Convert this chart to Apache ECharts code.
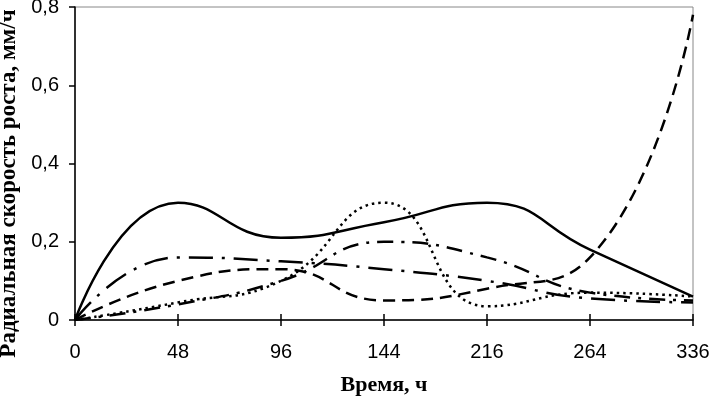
<!doctype html>
<html lang="ru">
<head>
<meta charset="UTF-8">
<title>Радиальная скорость роста</title>
<script src="https://cdn.jsdelivr.net/npm/echarts@6/dist/echarts.min.js"></script>
<style>
  html, body { margin: 0; padding: 0; background: #fff; }
  #chart { width: 713px; height: 397px; }
</style>
</head>
<body>
<div id="chart"></div>
<script>
  // время, ч (категории оси X)
  var times = ['0', '48', '96', '144', '216', '264', '336'];

  // значения радиальной скорости роста, мм/ч
  var solidLine    = [0, 0.30, 0.21, 0.25, 0.30, 0.18, 0.06];
  var dashLine     = [0, 0.10, 0.13, 0.05, 0.08, 0.16, 0.78];
  var longDashDot  = [0, 0.16, 0.15, 0.13, 0.10, 0.055, 0.045];
  var dashDotLine  = [0, 0.04, 0.10, 0.20, 0.16, 0.07, 0.05];
  var dotLine      = [0, 0.045, 0.10, 0.30, 0.035, 0.07, 0.06];

  var chart = echarts.init(document.getElementById('chart'));

  function mkSeries(data, dash) {
    return {
      type: 'line',
      data: data,
      smooth: 0.5,
      symbol: 'none',
      xAxisIndex: 0,
      lineStyle: { color: '#000', width: 2.5, type: dash }
    };
  }

  var option = {
    animation: false,
    backgroundColor: '#fff',
    grid: {
      left: 75, right: 20, top: 7, bottom: 77,
      containLabel: false, outerBoundsMode: 'none',
      show: true, borderColor: '#888', borderWidth: 1
    },
    xAxis: [{
      type: 'category',
      data: times,
      boundaryGap: false,
      name: 'Время, ч',
      nameLocation: 'middle',
      nameGap: 54,
      nameTextStyle: { fontFamily: 'Liberation Serif', fontWeight: 'bold', fontSize: 22, color: '#000' },
      axisLine: { lineStyle: { color: '#000', width: 1.5 } },
      axisTick: { length: 6, lineStyle: { color: '#000', width: 1.5 } },
      axisLabel: { margin: 22, fontFamily: 'Liberation Sans', fontSize: 20, color: '#000' },
      splitLine: { show: false }
    }, {
      // верхняя половина пересекающих делений
      type: 'category',
      data: times,
      boundaryGap: false,
      position: 'top',
      offset: -313,
      axisLine: { show: false },
      axisTick: { length: 6, lineStyle: { color: '#000', width: 1.5 } },
      axisLabel: { show: false },
      splitLine: { show: false }
    }],
    yAxis: {
      type: 'value',
      min: 0, max: 0.8, interval: 0.2,
      name: 'Радиальная скорость роста, мм/ч',
      nameLocation: 'middle',
      nameGap: 47,
      nameTextStyle: {
        fontFamily: 'Liberation Serif', fontWeight: 'bold', fontSize: 23, color: '#000',
        padding: [0, 40, 0, 0]
      },
      axisLine: { show: true, lineStyle: { color: '#000', width: 1.5 } },
      axisTick: { show: true, length: 6, lineStyle: { color: '#000', width: 1.5 } },
      axisLabel: {
        margin: 16, fontFamily: 'Liberation Sans', fontSize: 20, color: '#000',
        formatter: function (v) { return String(+v.toFixed(1)).replace('.', ','); }
      },
      splitLine: { show: false }
    },
    series: [
      mkSeries(solidLine, 'solid'),
      mkSeries(dashLine, [12, 7]),
      mkSeries(longDashDot, [24, 9, 3, 9]),
      mkSeries(dashDotLine, [16, 8, 3, 8]),
      mkSeries(dotLine, [2.5, 4])
    ]
  };

  chart.setOption(option);
</script>
</body>
</html>
